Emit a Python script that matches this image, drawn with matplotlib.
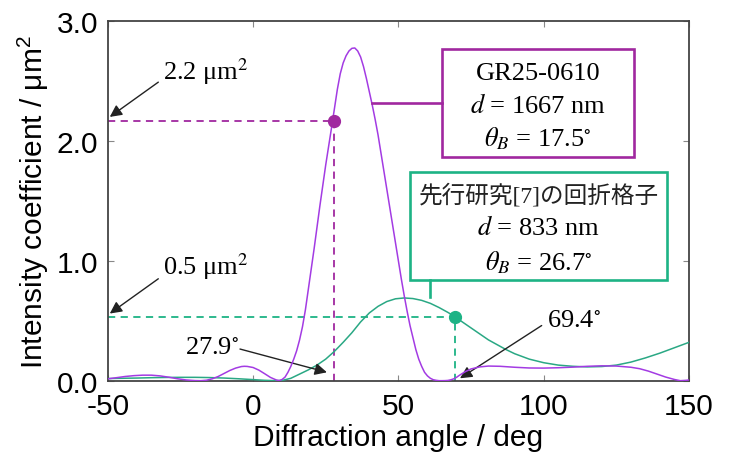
import matplotlib
matplotlib.use("Agg")
import matplotlib.pyplot as plt
from matplotlib.patches import Rectangle

# --- data ---
# GR25-0610 (d = 1667 nm)
angle_gr = [-50, -47, -44, -41, -38, -35, -32, -29, -26, -23, -20, -18, -16, -14,
            -12, -10, -8, -6, -4, -3, -2, 0, 2, 4, 6, 8, 9, 10, 11, 12, 13, 14,
            15, 16, 17, 18, 19, 20, 21, 22, 23, 24, 25, 26, 27, 28, 29, 30, 31,
            32, 33, 34, 35, 36, 37, 38, 39, 40, 41, 42, 43, 44, 45, 46, 47, 48,
            49, 50, 51, 52, 53, 54, 55, 56, 57, 58, 59, 60, 61, 62, 63, 64, 65,
            66, 67, 68, 69, 70, 71, 73, 75, 78, 81, 85, 90, 95, 100, 105, 110,
            115, 120, 125, 130, 133, 136, 139, 142, 145, 147, 149, 150]
coef_gr = [0.015, 0.025, 0.035, 0.042, 0.046, 0.046, 0.040, 0.029, 0.016, 0.006,
           0.001, 0.0, 0.004, 0.016, 0.035, 0.060, 0.085, 0.105, 0.118, 0.120,
           0.119, 0.110, 0.088, 0.058, 0.027, 0.006, 0.001, 0.01, 0.03, 0.07,
           0.12, 0.18, 0.25, 0.34, 0.45, 0.59, 0.76, 0.93, 1.10, 1.28, 1.46,
           1.63, 1.80, 1.955, 2.11, 2.27, 2.43, 2.56, 2.65, 2.71, 2.75, 2.772,
           2.775, 2.75, 2.70, 2.62, 2.52, 2.41, 2.30, 2.18, 2.05, 1.90, 1.75,
           1.60, 1.45, 1.30, 1.15, 1.00, 0.85, 0.71, 0.58, 0.46, 0.36, 0.26,
           0.18, 0.12, 0.07, 0.04, 0.02, 0.008, 0.003, 0.0, 0.0, 0.0005, 0.002,
           0.007, 0.015, 0.028, 0.045, 0.075, 0.098, 0.115, 0.122, 0.120, 0.112,
           0.106, 0.105, 0.108, 0.113, 0.120, 0.124, 0.122, 0.112, 0.100, 0.080,
           0.055, 0.030, 0.010, 0.0, 0.003, 0.006]

# previous work [7] grating (d = 833 nm)
angle_prev = [-50, -45, -40, -35, -30, -25, -20, -15, -10, -5, 0, 4, 8, 10, 13,
              16, 19, 22, 25, 28, 31, 34, 37, 40, 43, 46, 49, 52, 55, 58, 61,
              64, 67, 69.4, 72, 75, 78, 81, 84, 87, 90, 95, 100, 105, 110, 115,
              120, 125, 130, 135, 140, 145, 150]
coef_prev = [0.018, 0.020, 0.022, 0.025, 0.027, 0.028, 0.028, 0.026, 0.022,
             0.016, 0.009, 0.003, 0.0, 0.002, 0.02, 0.055, 0.09, 0.13, 0.18,
             0.245, 0.32, 0.40, 0.49, 0.565, 0.62, 0.66, 0.683, 0.69, 0.685,
             0.67, 0.645, 0.61, 0.57, 0.535, 0.49, 0.44, 0.39, 0.34, 0.30, 0.26,
             0.225, 0.18, 0.15, 0.13, 0.12, 0.115, 0.118, 0.13, 0.155, 0.19,
             0.23, 0.275, 0.32]

gr_point = (27.9, 2.17)
prev_point = (69.4, 0.535)

x_ticks = [-50, 0, 50, 100, 150]
y_ticks = [0.0, 1.0, 2.0, 3.0]

purple_line = '#a33be3'
purple_mark = '#a0289f'
green_line = '#2aa884'
green_mark = '#1db385'

plt.rcParams['font.family'] = ['Liberation Sans', 'DejaVu Sans']
plt.rcParams['mathtext.fontset'] = 'custom'
plt.rcParams['mathtext.rm'] = 'Liberation Sans'
plt.rcParams['mathtext.it'] = 'Liberation Sans:italic'

serif = ['Liberation Serif', 'Noto Sans CJK JP']

fig = plt.figure(figsize=(7.33, 4.64), dpi=100)
ax = fig.add_axes([0.147, 0.1774, 0.793, 0.7752])

# --- curves ---
ax.plot(angle_prev, coef_prev, color=green_line, lw=1.1, zorder=3)
ax.plot(angle_gr, coef_gr, color=purple_line, lw=1.1, zorder=4)

# --- guide lines and points ---
dash = (0, (4, 3))
ax.plot([-50, gr_point[0]], [gr_point[1], gr_point[1]], color=purple_mark,
        lw=1.3, ls=dash, zorder=2)
ax.plot([gr_point[0], gr_point[0]], [0, gr_point[1]], color=purple_mark,
        lw=1.3, ls=dash, zorder=2)
ax.plot([-50, prev_point[0]], [prev_point[1], prev_point[1]], color=green_mark,
        lw=1.3, ls=dash, zorder=2)
ax.plot([prev_point[0], prev_point[0]], [0, prev_point[1]], color=green_mark,
        lw=1.3, ls=dash, zorder=2)
ax.plot(*gr_point, 'o', color=purple_mark, ms=8.5, zorder=5)
ax.plot(*prev_point, 'o', color=green_mark, ms=8.5, zorder=5)

# --- annotations with arrows ---
arrow = dict(arrowstyle='-|>', color='#222222', lw=1.0, mutation_scale=18,
             shrinkA=0, shrinkB=0)
fs = 19
ax.annotate('', xy=(-49.3, 2.2), xytext=(-32.6, 2.49), arrowprops=arrow)
ax.text(-31, 2.585, '2.2 μm$^2$', family=serif, fontsize=fs,
        math_fontfamily='stix', va='center', ha='left')
ax.annotate('', xy=(-49.3, 0.56), xytext=(-32.6, 0.85), arrowprops=arrow)
ax.text(-31, 0.96, '0.5 μm$^2$', family=serif, fontsize=fs,
        math_fontfamily='stix', va='center', ha='left')
ax.annotate('', xy=(25.4, 0.07), xytext=(-4.5, 0.264), arrowprops=arrow)
ax.text(-4.8, 0.285, '27.9$^{\\circ}$', family=serif, fontsize=fs,
        math_fontfamily='stix', va='center', ha='right')
ax.annotate('', xy=(71.2, 0.02), xytext=(99.3, 0.46), arrowprops=arrow)
ax.text(101, 0.51, '69.4$^{\\circ}$', family=serif, fontsize=fs,
        math_fontfamily='stix', va='center', ha='left')

# --- label boxes ---
ax.add_patch(Rectangle((65.0, 1.864), 65.9, 0.90, fill=False,
                       ec=purple_mark, lw=1.9, zorder=6))
ax.plot([40.85, 65.0], [2.32, 2.32], color=purple_mark, lw=1.9, zorder=6)
ax.text(98.0, 2.57, 'GR25-0610', family=serif, fontsize=fs, ha='center',
        va='center', zorder=7)
ax.text(98.0, 2.30, '$d$ = 1667 nm', family=serif, fontsize=fs,
        math_fontfamily='stix', ha='center', va='center', zorder=7)
ax.text(98.0, 2.03, '$\\theta_B$ = 17.5$^{\\circ}$', family=serif, fontsize=fs,
        math_fontfamily='stix', ha='center', va='center', zorder=7)

ax.add_patch(Rectangle((54.0, 0.84), 88.5, 0.90, fill=False,
                       ec=green_mark, lw=1.9, zorder=6))
ax.plot([60.9, 60.9], [0.70, 0.84], color=green_mark, lw=1.9, zorder=6)
ax.text(98.2, 1.556, '先行研究[7]の回折格子', family=serif, fontsize=17,
        ha='center', va='center', zorder=7, color='#222222')
ax.text(98.2, 1.28, '$d$ = 833 nm', family=serif, fontsize=fs,
        math_fontfamily='stix', ha='center', va='center', zorder=7)
ax.text(98.2, 0.995, '$\\theta_B$ = 26.7$^{\\circ}$', family=serif, fontsize=fs,
        math_fontfamily='stix', ha='center', va='center', zorder=7)

# --- axes ---
ax.set_xlim(-50, 150)
ax.set_ylim(0, 3.0)
ax.set_xticks(x_ticks)
ax.set_xticklabels([str(t) for t in x_ticks])
ax.set_yticks(y_ticks)
ax.set_yticklabels([f'{t:.1f}' for t in y_ticks])
ax.tick_params(direction='in', length=4, width=0.8, color='#888888',
               labelsize=21.5, top=True, right=True)
ax.tick_params(axis='x', pad=8)
ax.tick_params(axis='y', pad=7)
for s in ax.spines.values():
    s.set_linewidth(1.3)
    s.set_color('#444444')
ax.set_xlabel('Diffraction angle / deg', fontsize=21.5, labelpad=2)
ax.set_ylabel('Intensity coefficient / μm$^2$', fontsize=21.5, labelpad=4)

fig.savefig('out.png', dpi=100)
